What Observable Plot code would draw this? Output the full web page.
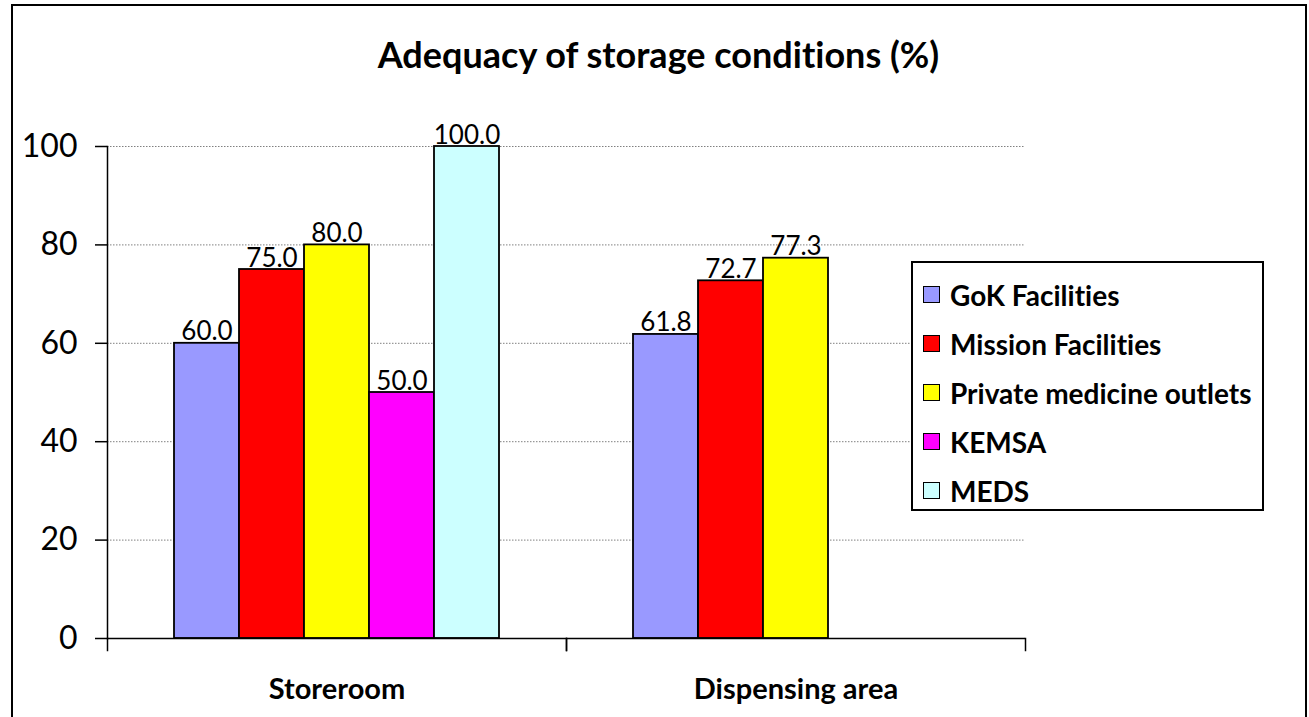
<!DOCTYPE html>
<html><head><meta charset="utf-8">
<script src="https://cdn.jsdelivr.net/npm/d3@7"></script>
<script src="https://cdn.jsdelivr.net/npm/@observablehq/plot@0.6"></script>
<style>
body{margin:0;background:#fff;font-family:Lato,sans-serif;}
body, svg, svg text{font-variant-ligatures:none;font-feature-settings:"liga" 0, "clig" 0;}
#wrap{position:relative;width:1309px;height:717px;overflow:hidden;}
#chart{position:absolute;left:0;top:0;}
#border{position:absolute;left:11px;top:4px;width:1296px;height:800px;border:2.5px solid #000;box-sizing:border-box;}
#title{position:absolute;left:4px;width:1309px;top:35px;text-align:center;font-weight:bold;font-size:36px;line-height:38px;color:#000;}
#legend{position:absolute;left:911px;top:261px;width:353px;height:250px;border:2px solid #000;box-sizing:border-box;padding-top:7px;background:#fff;}
.row{display:flex;align-items:center;height:49px;padding-left:10px;font-weight:bold;font-size:28px;color:#000;}
.sw{width:17px;height:17px;border:1.5px solid #000;box-sizing:border-box;margin-right:10px;flex:none;}
</style></head><body>
<div id="wrap"><div id="border"></div><div id="chart"></div><div id="title"></div><div id="legend"></div></div>
<script>
const title = "Adequacy of storage conditions (%)";
const categories = ["Storeroom", "Dispensing area"];
const series = ["GoK Facilities", "Mission Facilities", "Private medicine outlets", "KEMSA", "MEDS"];
const colors = ["#9999FF", "#FF0000", "#FFFF00", "#FF00FF", "#CCFFFF"];
const storeroomValues = [60.0, 75.0, 80.0, 50.0, 100.0];
const dispensingValues = [61.8, 72.7, 77.3, null, null];
const yTicks = [0, 20, 40, 60, 80, 100];

const rows = [];
[storeroomValues, dispensingValues].forEach((vals, ci) => {
  vals.forEach((v, si) => { if (v != null) rows.push({category: categories[ci], series: series[si], value: v}); });
});

const plot = Plot.plot({
  width: 1309, height: 717,
  marginTop: 146, marginBottom: 79, marginLeft: 106, marginRight: 284,
  style: {fontFamily: "Lato, sans-serif", background: "transparent", overflow: "visible", color: "#000"},
  fx: {domain: categories, padding: 0, label: null},
  x: {domain: series, paddingInner: 0, paddingOuter: 1, axis: null},
  y: {domain: [0, 100], label: null},
  color: {domain: series, range: colors},
  marks: [
    Plot.gridY(yTicks.slice(1), {stroke: "#808080", strokeOpacity: 1, strokeDasharray: "1.5,1.5", strokeWidth: 1}),
    Plot.barY(rows, {fx: "category", x: "series", y: "value", fill: "series", stroke: "black", strokeWidth: 1.8}),
    Plot.text(rows, {fx: "category", x: "series", y: "value", text: d => d.value.toFixed(1), lineAnchor: "bottom", dy: -3, fontSize: 26, fill: "black"}),
    Plot.ruleY([0], {stroke: "black", strokeWidth: 1.5}),
    Plot.frame({anchor: "left", facet: "super", stroke: "black", strokeWidth: 1.5}),
    Plot.frame({anchor: "left", insetTop: 492, insetBottom: -12, stroke: "black", strokeWidth: 1.5}),
    Plot.frame({anchor: "right", insetTop: 492, insetBottom: -12, stroke: "black", strokeWidth: 1.5}),
    Plot.axisY(yTicks, {tickSize: 12, tickPadding: 18, fontSize: 32, strokeWidth: 1.5, label: null}),
    Plot.axisFx({anchor: "bottom", tickSize: 0, tickPadding: 40, fontSize: 29, fontWeight: "bold", label: null})
  ]
});
document.getElementById("chart").appendChild(plot);
document.getElementById("title").textContent = title;
const lg = document.getElementById("legend");
series.forEach((s, i) => {
  const r = document.createElement("div"); r.className = "row";
  const sw = document.createElement("div"); sw.className = "sw"; sw.style.background = colors[i];
  const t = document.createElement("span"); t.textContent = s;
  r.appendChild(sw); r.appendChild(t); lg.appendChild(r);
});
</script>
</body></html>
